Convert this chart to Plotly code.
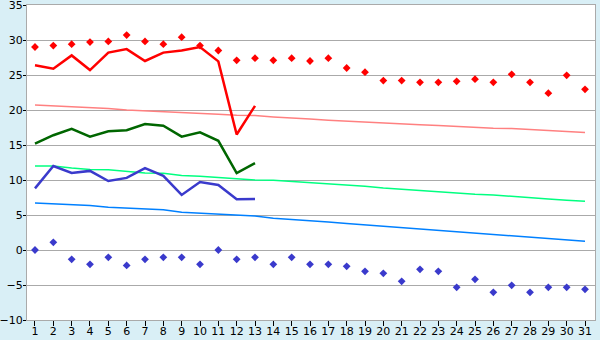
import plotly.graph_objects as go

days = list(range(1, 32))

# records / extremes (markers)
record_max = [29.0, 29.2, 29.4, 29.7, 29.8, 30.7, 29.8, 29.4, 30.4, 29.2,
              28.5, 27.1, 27.4, 27.1, 27.4, 27.0, 27.4, 26.0, 25.4, 24.2,
              24.2, 23.95, 23.95, 24.1, 24.4, 23.95, 25.1, 23.95, 22.4, 24.95, 22.95]
record_min = [0.0, 1.1, -1.33, -2.05, -1.05, -2.2, -1.33, -1.05, -1.05, -2.05,
              0.0, -1.33, -1.05, -2.05, -1.05, -2.05, -2.05, -2.33, -3.05, -3.33,
              -4.47, -2.76, -3.05, -5.33, -4.19, -6.05, -5.05, -6.05, -5.33, -5.33, -5.62]

# current month (days 1-13)
cur_days = list(range(1, 14))
cur_max = [26.4, 25.9, 27.8, 25.7, 28.2, 28.7, 27.0, 28.2, 28.5, 29.0, 26.95, 16.5, 20.6]
cur_mean = [15.2, 16.4, 17.3, 16.2, 16.95, 17.1, 18.0, 17.75, 16.2, 16.8, 15.6, 11.0, 12.4]
cur_min = [8.8, 12.0, 11.0, 11.3, 9.86, 10.3, 11.7, 10.6, 7.86, 9.7, 9.3, 7.24, 7.3]

# normals
norm_max = [20.7, 20.6, 20.5, 20.3, 20.2, 20.0, 19.9, 19.7, 19.7, 19.5,
            19.4, 19.25, 19.2, 19.0, 18.8, 18.7, 18.55, 18.4, 18.3, 18.1,
            18.0, 17.9, 17.8, 17.65, 17.5, 17.4, 17.35, 17.2, 17.0, 16.95, 16.8]
norm_mean = [12.0, 12.0, 11.7, 11.5, 11.45, 11.2, 11.0, 10.95, 10.65, 10.55,
             10.35, 10.2, 10.0, 9.95, 9.8, 9.55, 9.45, 9.25, 9.1, 8.85,
             8.65, 8.55, 8.35, 8.15, 7.95, 7.85, 7.7, 7.5, 7.3, 7.1, 6.95]
norm_min = [6.7, 6.6, 6.4, 6.35, 6.1, 6.0, 5.85, 5.75, 5.4, 5.25,
            5.2, 5.05, 4.85, 4.55, 4.4, 4.2, 4.0, 3.8, 3.6, 3.35,
            3.2, 3.05, 2.8, 2.6, 2.4, 2.25, 2.0, 1.85, 1.65, 1.45, 1.25]

y_ticks = [-10, -5, 0, 5, 10, 15, 20, 25, 30, 35]

fig = go.Figure()
fig.add_trace(go.Scatter(x=days, y=norm_max, mode="lines",
                         line=dict(color="#ff8080", width=1.5)))
fig.add_trace(go.Scatter(x=days, y=norm_mean, mode="lines",
                         line=dict(color="#00ff80", width=1.5)))
fig.add_trace(go.Scatter(x=days, y=norm_min, mode="lines",
                         line=dict(color="#0080ff", width=1.5)))
fig.add_trace(go.Scatter(x=cur_days, y=cur_max, mode="lines",
                         line=dict(color="#ff0000", width=2.5)))
fig.add_trace(go.Scatter(x=cur_days, y=cur_mean, mode="lines",
                         line=dict(color="#006600", width=2.5)))
fig.add_trace(go.Scatter(x=cur_days, y=cur_min, mode="lines",
                         line=dict(color="#3a3acc", width=2.5)))
fig.add_trace(go.Scatter(x=days, y=record_max, mode="markers",
                         marker=dict(color="#ff0000", symbol="diamond", size=6)))
fig.add_trace(go.Scatter(x=days, y=record_min, mode="markers",
                         marker=dict(color="#3a3acc", symbol="diamond", size=6)))

fig.update_layout(
    width=600, height=340,
    margin=dict(l=27, r=5, t=5, b=20, autoexpand=False),
    paper_bgcolor="#d9eff6",
    plot_bgcolor="#ffffff",
    showlegend=False,
    font=dict(family="DejaVu Sans", size=11, color="#000000"),
)
fig.update_xaxes(
    range=[0.564, 31.545], tickmode="array", tickvals=days,
    ticktext=[str(d) for d in days], automargin=False,
    showgrid=False, zeroline=False,
    showline=True, linecolor="#aaaaaa", linewidth=1, mirror=True,
    ticks="outside", ticklen=5, tickcolor="#000000", tickwidth=1,
    ticklabelstandoff=-4, ticklabeloverflow="allow",
)
fig.update_yaxes(
    range=[-10, 35], tickmode="array", tickvals=y_ticks, automargin=False,
    showgrid=True, gridcolor="#aaaaaa", gridwidth=1,
    zeroline=False,
    showline=True, linecolor="#aaaaaa", linewidth=1, mirror=True,
    ticks="outside", ticklen=3, tickcolor="#000000", tickwidth=1,
    ticklabelstandoff=-2, ticklabeloverflow="allow",
)

fig.write_html("out.html")
